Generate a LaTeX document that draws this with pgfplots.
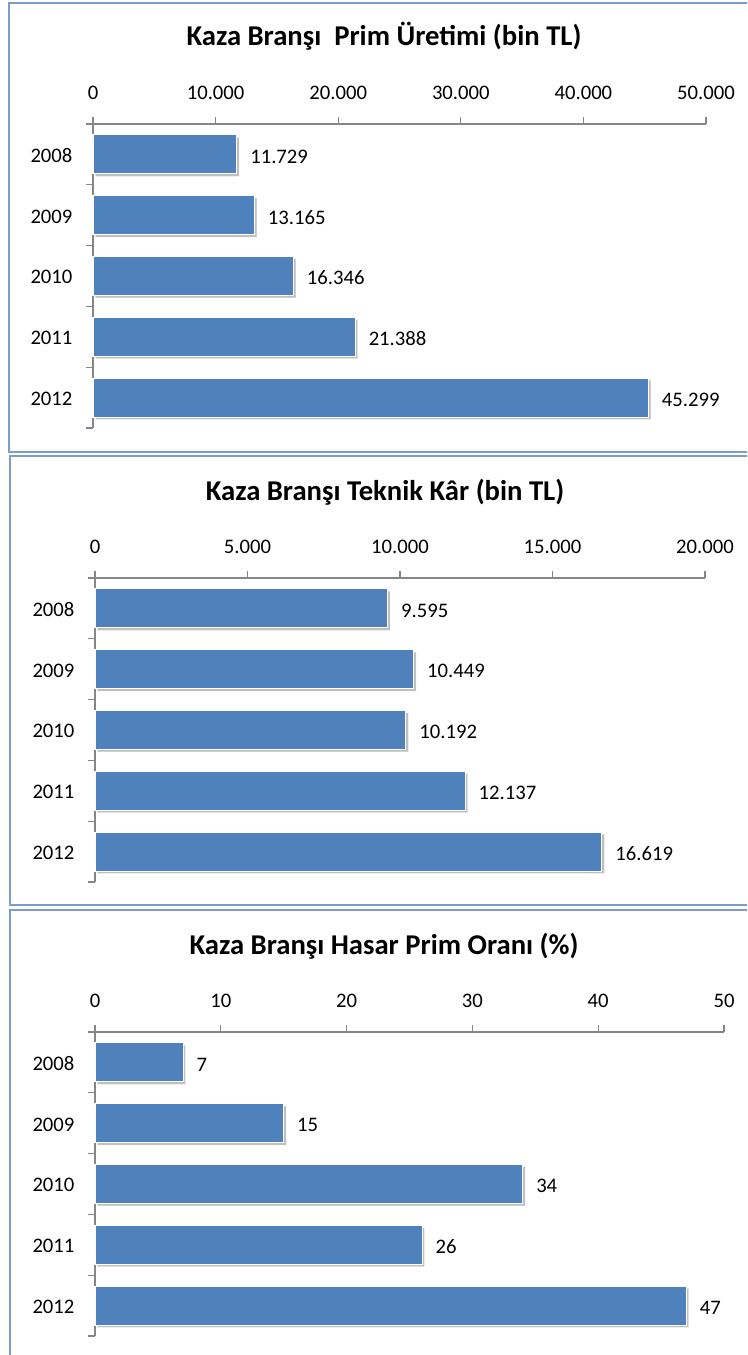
\documentclass[border=0pt]{standalone}
\usepackage{pgfplots}
\pgfplotsset{compat=1.18}
\usepackage{fontspec}
\setmainfont{Carlito}
\usetikzlibrary{shadows}
\definecolor{barblue}{HTML}{4F81BD}
\definecolor{frameblue}{HTML}{7B9DCD}
\definecolor{axisgray}{HTML}{868686}
\pgfplotsset{
  kaza/.style={
    scale only axis,
    anchor=north west,
    height=228pt,
    xbar, bar width=29.25pt,
    xmin=0,
    ymin=0.5, ymax=5.5,
    ytick={1,2,3,4,5},
    yticklabels={2012,2011,2010,2009,2008},
    minor ytick={0.5,1.5,2.5,3.5,4.5,5.5},
    major y tick style={draw=none},
    minor y tick style={axisgray, line width=0.8pt},
    minor tick length=5.25pt,
    major tick length=5.25pt,
    tick align=outside,
    x tick style={axisgray, line width=0.8pt},
    axis x line*=top,
    axis y line*=left,
    axis line style={axisgray, line width=1pt},
    scaled x ticks=false,
    /pgf/number format/.cd, fixed, 1000 sep={.}, assume math mode=true,
    /pgfplots/.cd,
    tick label style={font=\fontsize{15.5}{18}\selectfont, text=black},
    xticklabel style={anchor=base, inner sep=0pt, yshift=13pt},
    yticklabel style={anchor=east, inner sep=0pt, xshift=-10pt, yshift=-1pt},
    nodes near coords,
    point meta=x,
    every node near coord/.append style={anchor=west, inner sep=0pt, xshift=9.75pt, yshift=-1.5pt,
      font=\fontsize{15.5}{18}\selectfont, text=black},
    clip=false,
  },
  kazabar/.style={fill=barblue, draw=white, line width=0.8pt,
    drop shadow={shadow xshift=1.8pt, shadow yshift=-1.8pt, fill=black, opacity=0.25}},
}
\begin{document}
\begin{tikzpicture}[x=0.75pt,y=0.75pt]
\path[use as bounding box] (0,0) rectangle (747,1355);
\clip (0,0) rectangle (747,1355);
\fill[white] (0,0) rectangle (747,1355);
\draw[frameblue, line width=1.5pt] (8.5,1352) rectangle (770,903);
\draw[frameblue, line width=1.5pt] (10,899) rectangle (770,450);
\draw[frameblue, line width=1.5pt] (10,445) rectangle (770,-30);

\node[anchor=base, font=\fontsize{21.5}{26}\selectfont\bfseries] at (384,1309) {Kaza Branşı~ Prim Üretimi (bin TL)};
\node[anchor=base, font=\fontsize{21.5}{26}\selectfont\bfseries] at (385,854) {Kaza Branşı Teknik Kâr (bin TL)};
\node[anchor=base, font=\fontsize{21.5}{26}\selectfont\bfseries] at (384,400) {Kaza Branşı Hasar Prim Oranı (\%)};

\begin{axis}[kaza, at={(69.75pt,923.25pt)}, width=459.75pt, xmax=50000, xtick={0,10000,20000,30000,40000,50000}]
\addplot[kazabar] coordinates {(11729,5) (13165,4) (16346,3) (21388,2) (45299,1)};
\end{axis}

\begin{axis}[kaza, at={(71.25pt,582.75pt)}, width=457.5pt, xmax=20000, xtick={0,5000,10000,15000,20000}]
\addplot[kazabar] coordinates {(9595,5) (10449,4) (10192,3) (12137,2) (16619,1)};
\end{axis}

\begin{axis}[kaza, at={(71.25pt,242.25pt)}, width=471.75pt, xmax=50, xtick={0,10,20,30,40,50}]
\addplot[kazabar] coordinates {(7,5) (15,4) (34,3) (26,2) (47,1)};
\end{axis}
\end{tikzpicture}
\end{document}
